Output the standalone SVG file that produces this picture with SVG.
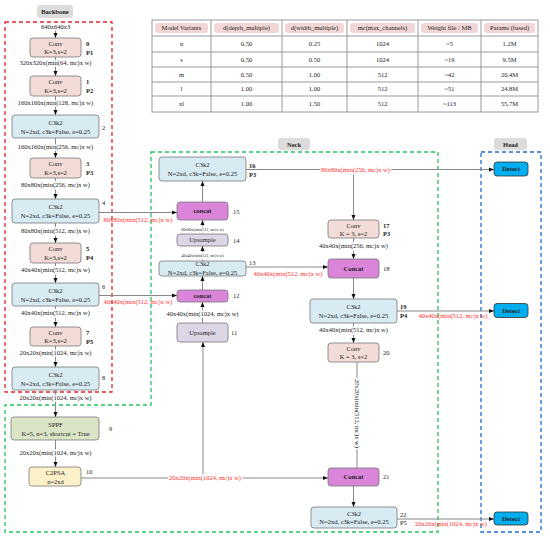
<svg xmlns="http://www.w3.org/2000/svg" width="550" height="538" viewBox="0 0 550 538">
<defs>
<marker id="ah" viewBox="0 0 10 10" refX="10" refY="5" markerWidth="5" markerHeight="5" orient="auto-start-reverse" markerUnits="userSpaceOnUse">
<path d="M0,1 L10,5 L0,9 z" fill="#111"/>
</marker>
<style>
text{font-family:"Liberation Serif","Times New Roman",serif;fill:#222}
.t{font-size:6.5px;text-anchor:middle}
.tiny{font-size:4px;text-anchor:middle}
.b{font-weight:bold}
.idx{font-size:6.5px;text-anchor:start}
.red{fill:#ff3030;font-size:6.5px;text-anchor:middle}
.halo{paint-order:stroke;stroke:#fff;stroke-width:3px;stroke-linejoin:round}
.ln{stroke:#888;stroke-width:1;fill:none}
.ar{stroke:#888;stroke-width:1;fill:none;marker-end:url(#ah)}
.n{stroke:#777;stroke-width:0.8}
.conv{fill:#f3dcd8}
.c3{fill:#d8ebf2}
.cat{fill:#da85da}
.up{fill:#ddd6e6}
.sppf{fill:#dae5c6}
.psa{fill:#fdf1c9}
.det{fill:#00aeef;stroke:#333;stroke-width:0.8}
.lab{fill:#dcdcdc}
.tl{stroke:#999;stroke-width:1;fill:none}
.hd{fill:#f2d6d6}
</style>
</defs>

<!-- region frames -->
<g id="frames">
<rect x="5" y="22" width="107" height="370" fill="none" stroke="#e8232a" stroke-width="1.3" stroke-dasharray="4,3"/>
<path d="M151,152 H438 V532 H5 V405 H151 Z" fill="none" stroke="#22c55e" stroke-width="1.3" stroke-dasharray="4,3"/>
<rect x="481" y="152" width="60" height="380" fill="none" stroke="#1e6fd0" stroke-width="1.3" stroke-dasharray="4,3"/>
<rect class="lab" x="37" y="5" width="36" height="13" rx="3"/>
<text class="t b" x="55" y="14">Backbone</text>
<rect class="lab" x="278" y="138" width="32" height="12" rx="3"/>
<text class="t b" x="294" y="146.5">Neck</text>
<rect class="lab" x="494" y="138" width="33" height="12" rx="3"/>
<text class="t b" x="510.5" y="146.5">Head</text>
</g>

<!-- table -->
<g id="table">
<rect class="tl" x="152" y="20" width="386" height="92"/>
<path class="tl" d="M211,20V112M282,20V112M347,20V112M418,20V112M481,20V112M152,36H538M152,52H538M152,67H538M152,82H538M152,96H538"/>
<rect class="hd" x="155" y="23" width="53" height="10" rx="3"/>
<rect class="hd" x="214" y="23" width="65" height="10" rx="3"/>
<rect class="hd" x="285" y="23" width="59" height="10" rx="3"/>
<rect class="hd" x="350" y="23" width="65" height="10" rx="3"/>
<rect class="hd" x="421" y="23" width="57" height="10" rx="3"/>
<rect class="hd" x="484" y="23" width="51" height="10" rx="3"/>
<text class="t" x="181.5" y="30.3">Model Variants</text>
<text class="t" x="246.5" y="30.3">d(depth_multiple)</text>
<text class="t" x="314.5" y="30.3">d(width_multiple)</text>
<text class="t" x="382.5" y="30.3">mc(max_channels)</text>
<text class="t" x="449.5" y="30.3">Weight file / MB</text>
<text class="t" x="509.5" y="30.3">Params (fused)</text>

<text class="t" x="181.5" y="46.2">n</text><text class="t" x="246.5" y="46.2">0.50</text><text class="t" x="314.5" y="46.2">0.25</text><text class="t" x="382.5" y="46.2">1024</text><text class="t" x="449.5" y="46.2">~5</text><text class="t" x="509.5" y="46.2">1.2M</text>
<text class="t" x="181.5" y="61.7">s</text><text class="t" x="246.5" y="61.7">0.50</text><text class="t" x="314.5" y="61.7">0.50</text><text class="t" x="382.5" y="61.7">1024</text><text class="t" x="449.5" y="61.7">~19</text><text class="t" x="509.5" y="61.7">9.5M</text>
<text class="t" x="181.5" y="76.7">m</text><text class="t" x="246.5" y="76.7">0.50</text><text class="t" x="314.5" y="76.7">1.00</text><text class="t" x="382.5" y="76.7">512</text><text class="t" x="449.5" y="76.7">~42</text><text class="t" x="509.5" y="76.7">20.4M</text>
<text class="t" x="181.5" y="91.2">l</text><text class="t" x="246.5" y="91.2">1.00</text><text class="t" x="314.5" y="91.2">1.00</text><text class="t" x="382.5" y="91.2">512</text><text class="t" x="449.5" y="91.2">~51</text><text class="t" x="509.5" y="91.2">24.8M</text>
<text class="t" x="181.5" y="106.2">xl</text><text class="t" x="246.5" y="106.2">1.00</text><text class="t" x="314.5" y="106.2">1.50</text><text class="t" x="382.5" y="106.2">512</text><text class="t" x="449.5" y="106.2">~113</text><text class="t" x="509.5" y="106.2">55.7M</text>
</g>

<!-- connectors -->
<g id="connectors">
<line class="ar" x1="55.5" y1="30" x2="55.5" y2="38"/>
<line class="ar" x1="55.5" y1="57" x2="55.5" y2="76"/>
<line class="ar" x1="55.5" y1="96" x2="55.5" y2="115"/>
<line class="ar" x1="55.5" y1="138" x2="55.5" y2="158"/>
<line class="ar" x1="55.5" y1="178" x2="55.5" y2="199"/>
<line class="ar" x1="55.5" y1="223" x2="55.5" y2="243"/>
<line class="ar" x1="55.5" y1="263" x2="55.5" y2="283"/>
<line class="ar" x1="55.5" y1="306" x2="55.5" y2="327"/>
<line class="ar" x1="55.5" y1="346" x2="55.5" y2="367"/>
<line class="ar" x1="55.5" y1="390" x2="55.5" y2="417"/>
<line class="ar" x1="55.5" y1="440" x2="55.5" y2="467"/>

<line class="ar" x1="99" y1="212.5" x2="177" y2="212.5"/>
<line class="ar" x1="99" y1="295.5" x2="177" y2="295.5"/>
<line class="ar" x1="81" y1="478" x2="328" y2="478"/>
<line class="ar" x1="203" y1="478" x2="203" y2="342"/>
<line class="ar" x1="202.5" y1="323" x2="202.5" y2="302"/>
<line class="ar" x1="202.5" y1="290" x2="202.5" y2="276"/>
<line class="ar" x1="202.5" y1="261" x2="202.5" y2="246"/>
<line class="ar" x1="202.5" y1="234" x2="202.5" y2="220"/>
<line class="ar" x1="202.5" y1="202" x2="202.5" y2="181"/>

<line class="ar" x1="246" y1="169.5" x2="494" y2="169.5"/>
<line class="ar" x1="353.5" y1="169.5" x2="353.5" y2="220"/>
<line class="ar" x1="353.5" y1="238" x2="353.5" y2="259"/>
<line class="ar" x1="246" y1="267" x2="328" y2="267"/>
<line class="ar" x1="353.5" y1="278" x2="353.5" y2="299"/>
<line class="ar" x1="397" y1="311" x2="494" y2="311"/>
<line class="ar" x1="353.5" y1="323" x2="353.5" y2="343"/>
<line class="ln" x1="357" y1="362" x2="357" y2="468"/>
<line class="ar" x1="353.5" y1="486" x2="353.5" y2="507"/>
<line class="ar" x1="397" y1="519" x2="494" y2="519"/>

<!-- feature labels -->
<text class="t halo" x="55.5" y="29">640x640x3</text>
<text class="t halo" x="55.5" y="65.2">320x320x(min(64, mc)x w)</text>
<text class="t halo" x="55.5" y="105.2">160x160x(min(128, mc)x w)</text>
<text class="t halo" x="55.5" y="149.2">160x160x(min(256, mc)x w)</text>
<text class="t halo" x="55.5" y="187.2">80x80x(min(256, mc)x w)</text>
<text class="t halo" x="55.5" y="233.2">80x80x(min(512, mc)x w)</text>
<text class="t halo" x="55.5" y="272.2">40x40x(min(512, mc)x w)</text>
<text class="t halo" x="55.5" y="315.2">40x40x(min(512, mc)x w)</text>
<text class="t halo" x="55.5" y="355.2">20x20x(min(1024, mc)x w)</text>
<text class="t halo" x="55.5" y="400.2">20x20x(min(1024, mc)x w)</text>
<text class="t halo" x="55.5" y="455.2">20x20x(min(1024, mc)x w)</text>

<text class="red" x="138" y="221.5">80x80x(min(512, mc)x w)</text>
<text class="red" x="138" y="303.5">40x40x(min(512, mc)x w)</text>
<text class="red halo" x="205" y="480.2">20x20x(min(1024, mc)x w)</text>
<text class="t halo" x="202.5" y="316.2">40x40x(min(1024, mc)x w)</text>
<text class="tiny halo" x="202.5" y="257.4">40x40x(min(512, mc)x w)</text>
<text class="tiny halo" x="202.5" y="231.4">80x80x(min(512, mc)x w)</text>
<text class="red halo" x="355.5" y="172.2">80x80x(min(256, mc)x w)</text>
<text class="t halo" x="353.5" y="248.2">40x40x(min(256, mc)x w)</text>
<text class="red" x="288" y="275.5">40x40x(min(512, mc)x w)</text>
<text class="red" x="453" y="317.5">40x40x(min(512, mc)x w)</text>
<text class="t halo" x="353.5" y="332.2">40x40x(min(512, mc)x w)</text>
<text class="t halo" transform="translate(357,413.5) rotate(90)" x="0" y="2.2">20x20x(min(512, mc)x w)</text>
<text class="red" x="451" y="525.5">20x20x(min(1024, mc)x w)</text>
</g>

<!-- backbone nodes -->
<g id="n0"><rect class="n conv" x="30" y="38" width="51" height="19" rx="3"/><text class="t" x="55.5" y="45.5">Conv</text><text class="t" x="55.5" y="54">K=3,s=2</text><text class="idx b" x="86" y="45.5">0</text><text class="idx b" x="86" y="54.5">P1</text></g>
<g id="n1"><rect class="n conv" x="30" y="76" width="51" height="20" rx="3"/><text class="t" x="55.5" y="83.5">Conv</text><text class="t" x="55.5" y="92.5">K=3,s=2</text><text class="idx b" x="86" y="83.5">1</text><text class="idx b" x="86" y="92.5">P2</text></g>
<g id="n2"><rect class="n c3" x="12" y="115" width="87" height="23" rx="3"/><text class="t" x="55.5" y="125">C3k2</text><text class="t" x="55.5" y="134">N=2xd, c3k=False, e=0.25</text><text class="idx" x="102" y="130">2</text></g>
<g id="n3"><rect class="n conv" x="30" y="158" width="51" height="20" rx="3"/><text class="t" x="55.5" y="165.5">Conv</text><text class="t" x="55.5" y="174.5">K=3,s=2</text><text class="idx b" x="86" y="165.5">3</text><text class="idx b" x="86" y="174.5">P3</text></g>
<g id="n4"><rect class="n c3" x="12" y="199" width="87" height="24" rx="3"/><text class="t" x="55.5" y="209">C3k2</text><text class="t" x="55.5" y="218">N=2xd, c3k=False, e=0.25</text><text class="idx" x="102" y="205">4</text></g>
<g id="n5"><rect class="n conv" x="30" y="243" width="51" height="20" rx="3"/><text class="t" x="55.5" y="250.5">Conv</text><text class="t" x="55.5" y="259.5">K=3,s=2</text><text class="idx b" x="86" y="250.5">5</text><text class="idx b" x="86" y="259.5">P4</text></g>
<g id="n6"><rect class="n c3" x="12" y="283" width="87" height="23" rx="3"/><text class="t" x="55.5" y="293">C3k2</text><text class="t" x="55.5" y="302">N=2xd, c3k=False, e=0.25</text><text class="idx" x="102" y="289">6</text></g>
<g id="n7"><rect class="n conv" x="30" y="327" width="51" height="19" rx="3"/><text class="t" x="55.5" y="334.5">Conv</text><text class="t" x="55.5" y="343">K=3,s=2</text><text class="idx b" x="86" y="334.5">7</text><text class="idx b" x="86" y="343.5">P5</text></g>
<g id="n8"><rect class="n c3" x="12" y="367" width="87" height="23" rx="3"/><text class="t" x="55.5" y="377">C3k2</text><text class="t" x="55.5" y="386">N=2xd, c3k=False, e=0.25</text><text class="idx" x="102" y="380">8</text></g>
<g id="n9"><rect class="n sppf" x="11" y="417" width="88" height="23" rx="3"/><text class="t" x="55.5" y="427">SPPF</text><text class="t" x="55.5" y="435.5">K=5, n=3, shortcut = True</text><text class="idx" x="109" y="430.5">9</text></g>
<g id="n10"><rect class="n psa" x="29" y="467" width="52" height="19" rx="3"/><text class="t" x="55.5" y="475">C2PSA</text><text class="t" x="55.5" y="483.5">n=2xd</text><text class="idx" x="86" y="473.5">10</text></g>

<!-- neck nodes -->
<g id="n11"><rect class="n up" x="177" y="323" width="51" height="19" rx="3"/><text class="t" x="202.5" y="334.5">Upsample</text><text class="idx" x="231" y="334.5">11</text></g>
<g id="n12"><rect class="n cat" x="177" y="290" width="51" height="12" rx="3"/><text class="t b" x="202.5" y="298.3">concat</text><text class="idx" x="233" y="298.3">12</text></g>
<g id="n13"><rect class="n c3" x="159" y="261" width="87" height="15" rx="3"/><text class="t" x="202.5" y="266">C3k2</text><text class="t" x="202.5" y="274.5">N=2xd, c3k=False, e=0.25</text><text class="idx" x="249" y="265">13</text></g>
<g id="n14"><rect class="n up" x="177" y="234" width="51" height="12" rx="3"/><text class="t" x="202.5" y="242.3">Upsample</text><text class="idx" x="233" y="243">14</text></g>
<g id="n15"><rect class="n cat" x="177" y="202" width="51" height="18" rx="3"/><text class="t b" x="202.5" y="213.3">concat</text><text class="idx" x="233" y="214">15</text></g>
<g id="n16"><rect class="n c3" x="159" y="157" width="87" height="24" rx="3"/><text class="t" x="202.5" y="167">C3k2</text><text class="t" x="202.5" y="175.5">N=2xd, c3k=False, e=0.25</text><text class="idx b" x="249" y="167.5">16</text><text class="idx b" x="249" y="176.5">P3</text></g>
<g id="n17"><rect class="n conv" x="328" y="220" width="51" height="18" rx="3"/><text class="t" x="353.5" y="228">Conv</text><text class="t" x="353.5" y="236">K = 3, s=2</text><text class="idx b" x="383" y="228">17</text><text class="idx b" x="383" y="236">P3</text></g>
<g id="n18"><rect class="n cat" x="328" y="259" width="51" height="19" rx="3"/><text class="t b" x="353.5" y="270.5">Concat</text><text class="idx" x="383" y="270.5">18</text></g>
<g id="n19"><rect class="n c3" x="310" y="299" width="87" height="24" rx="3"/><text class="t" x="353.5" y="309">C3k2</text><text class="t" x="353.5" y="318">N=2xd, c3k=False, e=0.25</text><text class="idx b" x="400" y="309">19</text><text class="idx b" x="400" y="318">P4</text></g>
<g id="n20"><rect class="n conv" x="328" y="343" width="51" height="19" rx="3"/><text class="t" x="353.5" y="350.5">Conv</text><text class="t" x="353.5" y="359">K = 3, s=2</text><text class="idx" x="383" y="355">20</text></g>
<g id="n21"><rect class="n cat" x="328" y="468" width="51" height="18" rx="3"/><text class="t b" x="353.5" y="479.3">Concat</text><text class="idx" x="383" y="479.3">21</text></g>
<g id="n22"><rect class="n c3" x="311" y="507" width="86" height="21" rx="3"/><text class="t" x="354" y="515.5">C3k2</text><text class="t" x="354" y="524">N=2xd, c3k=False, e=0.25</text><text class="idx" x="400" y="517">22</text><text class="idx" x="400" y="525">P5</text></g>

<!-- head nodes -->
<g id="d1"><rect class="det" x="494" y="162" width="34" height="14" rx="3"/><text class="t b" x="511" y="171.3">Detect</text></g>
<g id="d2"><rect class="det" x="494" y="303.5" width="34" height="14" rx="3"/><text class="t b" x="511" y="312.8">Detect</text></g>
<g id="d3"><rect class="det" x="494" y="512" width="34" height="13" rx="3"/><text class="t b" x="511" y="520.8">Detect</text></g>
</svg>
